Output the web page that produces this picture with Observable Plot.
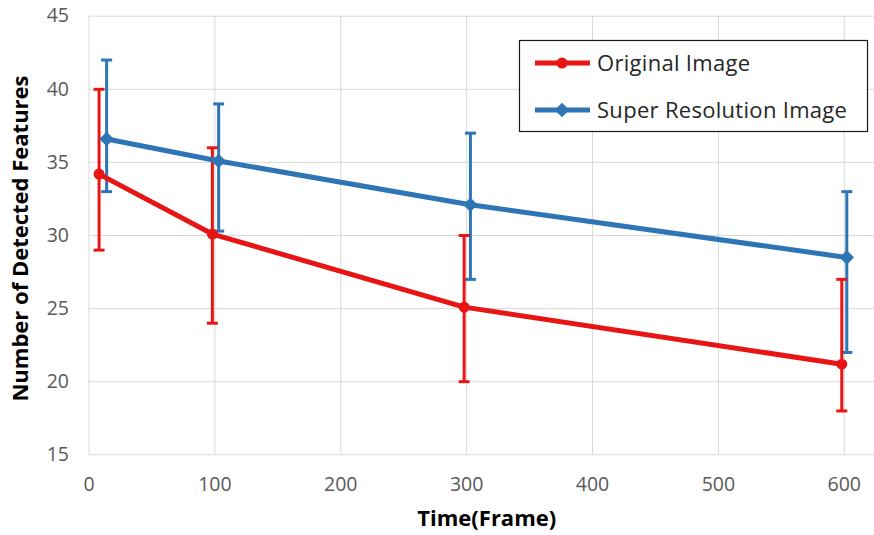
<!DOCTYPE html>
<html>
<head>
<meta charset="utf-8">
<script src="https://cdn.jsdelivr.net/npm/d3@7"></script>
<script src="https://cdn.jsdelivr.net/npm/@observablehq/plot@0.6"></script>
<style>
  html, body { margin: 0; padding: 0; background: #fff; }
  #chart { width: 874px; height: 535px; }
</style>
</head>
<body>
<div id="chart"></div>
<script>
// ---- data ----
const seriesNames = ["Original Image", "Super Resolution Image"];
const xOrig = [8, 98, 298, 598];
const yOrig = [34.2, 30.1, 25.1, 21.2];
const loOrig = [29, 24, 20, 18];
const hiOrig = [40, 36, 30, 27];
const xSuper = [14, 103, 303, 602];
const ySuper = [36.6, 35.1, 32.1, 28.5];
const loSuper = [33, 30.3, 27, 22];
const hiSuper = [42, 39, 37, 33];
const xTicks = [0, 100, 200, 300, 400, 500, 600];
const yTicks = [15, 20, 25, 30, 35, 40, 45];
const xTitle = "Time(Frame)";
const yTitle = "Number of Detected Features";

const RED = "#e81515";
const BLUE = "#2e75b6";

const orig = xOrig.map((x, i) => ({x, y: yOrig[i], lo: loOrig[i], hi: hiOrig[i]}));
const sup = xSuper.map((x, i) => ({x, y: ySuper[i], lo: loSuper[i], hi: hiSuper[i]}));

// horizontal cap symbol for error bars
const capSymbol = {
  draw(ctx, size) {
    const r = Math.sqrt(size / Math.PI);
    ctx.moveTo(-r, 0);
    ctx.lineTo(r, 0);
  }
};

function errMarks(data, color) {
  return [
    Plot.ruleX(data, {x: "x", y1: "lo", y2: "hi", stroke: color, strokeWidth: 3}),
    Plot.dot(data, {x: "x", y: "lo", symbol: capSymbol, r: 5.5, stroke: color, strokeWidth: 3, fill: "none"}),
    Plot.dot(data, {x: "x", y: "hi", symbol: capSymbol, r: 5.5, stroke: color, strokeWidth: 3, fill: "none"})
  ];
}

const plot = Plot.plot({
  width: 874,
  height: 535,
  marginLeft: 88.5,
  marginRight: 0,
  marginTop: 15.7,
  marginBottom: 80.7,
  style: {fontFamily: "'Open Sans', sans-serif", fontSize: "19px", background: "#fff", overflow: "visible"},
  x: {domain: [0, 624]},
  y: {domain: [15, 45]},
  marks: [
    Plot.gridX(xTicks, {stroke: "#d9d9d9", strokeOpacity: 1, strokeWidth: 1}),
    Plot.gridY(yTicks, {stroke: "#d9d9d9", strokeOpacity: 1, strokeWidth: 1}),
    Plot.axisX(xTicks, {tickSize: 0, tickPadding: 22, fill: "#595959", label: null, fontSize: 19.5}),
    Plot.axisY(yTicks, {tickSize: 0, tickPadding: 20, fill: "#595959", label: null, fontSize: 19.5}),
    ...errMarks(sup, BLUE),
    ...errMarks(orig, RED),
    Plot.line(sup, {x: "x", y: "y", stroke: BLUE, strokeWidth: 5}),
    Plot.line(orig, {x: "x", y: "y", stroke: RED, strokeWidth: 5}),
    Plot.dot(sup, {x: "x", y: "y", symbol: "diamond2", r: 6.5, fill: BLUE}),
    Plot.dot(orig, {x: "x", y: "y", symbol: "circle", r: 5.5, fill: RED}),
    Plot.text([xTitle], {frameAnchor: "bottom", dx: 5, dy: 64, textAnchor: "middle", lineAnchor: "middle", fontWeight: "bold", fontSize: 22, fill: "#000"}),
    Plot.text([yTitle], {frameAnchor: "left", dx: -68, dy: 3, rotate: -90, textAnchor: "middle", lineAnchor: "middle", fontWeight: "bold", fontSize: 22, fill: "#000"})
  ]
});

document.getElementById("chart").appendChild(plot);

// ---- legend (inside plot, top-right) ----
const svg = d3.select(plot);
const lg = svg.append("g").attr("font-family", "'Open Sans', sans-serif").attr("font-size", 22).attr("text-anchor", "start");
lg.append("rect").attr("x", 519.5).attr("y", 40.5).attr("width", 348).attr("height", 91)
  .attr("fill", "#fff").attr("stroke", "#1a1a1a").attr("stroke-width", 1.2);
const entries = [
  {name: seriesNames[0], color: RED, sym: d3.symbolCircle, size: Math.PI * 5.5 * 5.5, y: 63},
  {name: seriesNames[1], color: BLUE, sym: d3.symbolDiamond2, size: Math.PI * 6.5 * 6.5, y: 110}
];
for (const e of entries) {
  lg.append("line").attr("x1", 535).attr("x2", 590).attr("y1", e.y).attr("y2", e.y)
    .attr("stroke", e.color).attr("stroke-width", 5);
  lg.append("path").attr("d", d3.symbol(e.sym, e.size)()).attr("transform", `translate(562,${e.y})`).attr("fill", e.color);
  lg.append("text").attr("x", 597).attr("y", e.y).attr("dy", "0.35em").attr("text-anchor", "start")
    .attr("letter-spacing", 0.3).attr("fill", "#262626").text(e.name);
}
</script>
</body>
</html>
